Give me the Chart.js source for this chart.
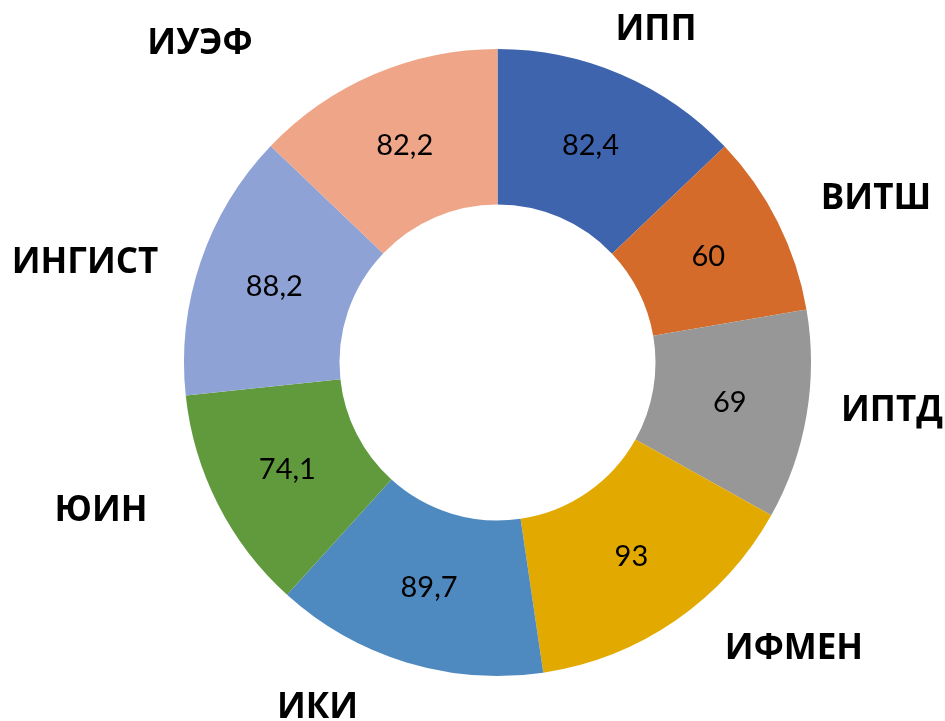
<!DOCTYPE html>
<html lang="ru">
<head>
<meta charset="utf-8">
<title>Институты</title>
<script src="https://cdn.jsdelivr.net/npm/chart.js@4.4.1/dist/chart.umd.min.js"></script>
<style>
    html, body { margin: 0; padding: 0; background: #fff; }
    #institutes { display: block; }
</style>
</head>
<body>
<canvas id="institutes" width="945" height="721"></canvas>
<script>
"use strict";

// Данные диаграммы
const institutes = ["ИПП", "ВИТШ", "ИПТД", "ИФМЕН", "ИКИ", "ЮИН", "ИНГИСТ", "ИУЭФ"];
const scores = [82.4, 60, 69, 93, 89.7, 74.1, 88.2, 82.2];
const sliceColors = ["#3E64AD", "#D46B2A", "#979797", "#E2AA00", "#4E89BF", "#619A3D", "#8FA2D5", "#EFA688"];

// Смещения подписей категорий от центра кольца (как в оригинале)
const labelOffsets = [
    [158.5, -333], [378.5, -164], [394.5, 48], [296.5, 286],
    [-180, 344.5], [-396.5, 148], [-412.5, -100], [-297.5, -319]
];

/**
 * Плагин: значения внутри секторов и названия снаружи.
 */
const ringLabels = {
    id: "ringLabels",
    afterDatasetsDraw(chart) {
        const ctx = chart.ctx;
        const arcs = chart.getDatasetMeta(0).data;
        ctx.save();
        ctx.textAlign = "center";
        ctx.textBaseline = "middle";
        ctx.fillStyle = "#000";

        ctx.font = "29px Lato, 'Open Sans', sans-serif";
        arcs.forEach((arc, i) => {
            const pos = arc.tooltipPosition();
            ctx.fillText(String(scores[i]).replace(".", ","), pos.x, pos.y);
        });

        ctx.font = "bold 35px 'Open Sans', 'Noto Sans', sans-serif";
        const cx = arcs[0].x;
        const cy = arcs[0].y;
        institutes.forEach((name, i) => {
            ctx.fillText(name, cx + labelOffsets[i][0], cy + labelOffsets[i][1] + 1);
        });
        ctx.restore();
    }
};

new Chart(document.getElementById("institutes"), {
    type: "doughnut",
    data: {
        labels: institutes,
        datasets: [{
            data: scores,
            backgroundColor: sliceColors,
            borderWidth: 0,
            hoverOffset: 0
        }]
    },
    options: {
        responsive: false,
        animation: false,
        cutout: "50.4%",
        layout: {
            padding: { left: 184, right: 134, top: 49, bottom: 45 }
        },
        plugins: {
            legend: { display: false },
            tooltip: { enabled: false }
        }
    },
    plugins: [ringLabels]
});
</script>
</body>
</html>
